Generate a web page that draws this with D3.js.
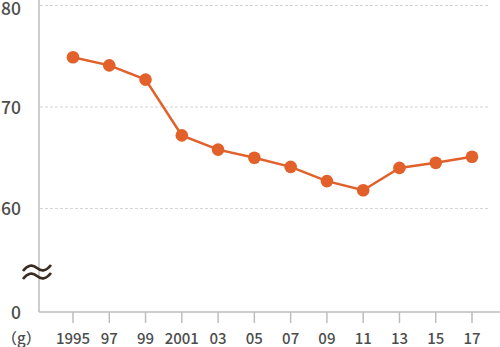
<!DOCTYPE html>
<html>
<head>
<meta charset="utf-8">
<script src="https://cdn.jsdelivr.net/npm/d3@7"></script>
<style>
  body { margin: 0; background: #fff; }
  text { font-family: "Noto Sans CJK JP", "Noto Sans", sans-serif; fill: #4d4d4d; font-weight: 500; }
</style>
</head>
<body>
<svg id="chart" width="500" height="347"></svg>
<script>
var years = ["1995","97","99","2001","03","05","07","09","11","13","15","17"];
var values = [74.9, 74.1, 72.7, 67.2, 65.8, 65.0, 64.1, 62.7, 61.8, 64.0, 64.5, 65.1];
var yTicks = [80, 70, 60, 0];
var gridTicks = [80, 70, 60];

var svg = d3.select("#chart");
var x = d3.scalePoint().domain(years).range([73, 472]);
// broken axis: 0 sits under the break, 60-80 is the real range
var y = d3.scaleLinear().domain([0, 60, 80]).range([312, 208.5, 5.5]);
var axisX = 39;

// grid
svg.append("g").selectAll("line").data(gridTicks).enter().append("line")
  .attr("x1", axisX + 1).attr("x2", 490)
  .attr("y1", function(d){return y(d);}).attr("y2", function(d){return y(d);})
  .attr("stroke", "#d4d4d4").attr("stroke-width", 1).attr("stroke-dasharray", "3,2");

// axes lines
svg.append("line").attr("x1", axisX).attr("x2", axisX).attr("y1", 0).attr("y2", y(0))
  .attr("stroke", "#bdbdbd").attr("stroke-width", 1.5);
svg.append("line").attr("x1", axisX).attr("x2", 500).attr("y1", y(0)).attr("y2", y(0))
  .attr("stroke", "#bdbdbd").attr("stroke-width", 1.5);

// x ticks
svg.append("g").selectAll("line").data(years).enter().append("line")
  .attr("x1", function(d){return x(d);}).attr("x2", function(d){return x(d);})
  .attr("y1", y(0)).attr("y2", y(0) + 11)
  .attr("stroke", "#bdbdbd").attr("stroke-width", 1.5);
svg.append("g").selectAll("text").data(years).enter().append("text")
  .attr("x", function(d){return x(d);}).attr("y", 344)
  .attr("text-anchor", "middle").attr("font-size", 15)
  .text(function(d){return d;});

// y labels
svg.append("g").selectAll("text").data(yTicks).enter().append("text")
  .attr("x", 21).attr("y", function(d){return Math.max(y(d) + 6.5, 15);})
  .attr("text-anchor", "end").attr("font-size", 17.5)
  .text(function(d){return d;});
svg.append("text").attr("x", 2).attr("y", 344).attr("font-size", 15).text("（g）");

// break mark
var brk = svg.append("g").attr("fill", "none").attr("stroke", "#3b2a1e").attr("stroke-width", 2.6);
[268, 276].forEach(function(cy) {
  brk.append("path")
    .attr("d", "M23," + (cy + 3) + " Q30," + (cy - 6) + " 37," + cy + " Q44," + (cy + 6) + " 51," + (cy - 3));
});

// line and dots
var pts = years.map(function(d, i){return [x(d), y(values[i])];});
svg.append("path").datum(pts)
  .attr("d", d3.line())
  .attr("fill", "none").attr("stroke", "#e2602a").attr("stroke-width", 2.5);
svg.append("g").selectAll("circle").data(pts).enter().append("circle")
  .attr("cx", function(d){return d[0];}).attr("cy", function(d){return d[1];})
  .attr("r", 6.3).attr("fill", "#e2602a");
</script>
</body>
</html>
